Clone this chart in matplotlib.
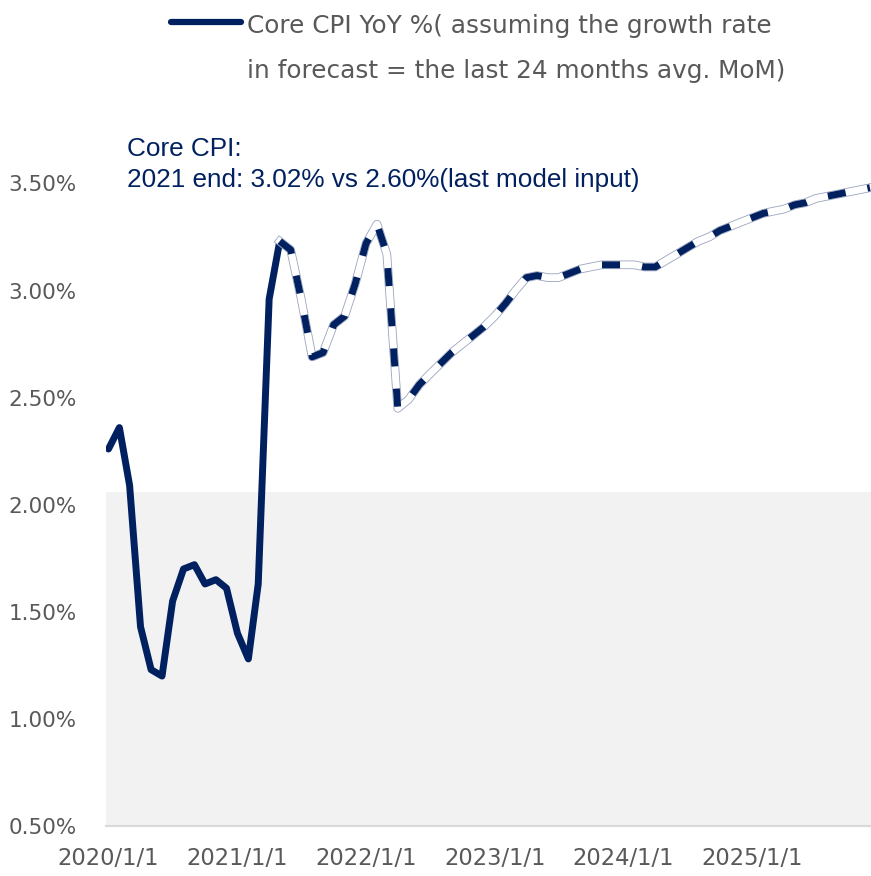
import matplotlib
matplotlib.use("Agg")
import matplotlib.pyplot as plt
import pandas as pd
from matplotlib.lines import Line2D

# monthly core CPI YoY %, 2020/1 .. 2025/12
months = pd.date_range("2020-01-01", "2025-12-01", freq="MS")
core_cpi_yoy = [
    2.26, 2.36, 2.09, 1.43, 1.23, 1.20, 1.55, 1.70, 1.72, 1.63, 1.65, 1.61,
    1.40, 1.28, 1.63, 2.96, 3.23, 3.19, 2.96, 2.69, 2.71, 2.84, 2.88, 3.03,
    3.22, 3.31, 3.17, 2.45, 2.49, 2.56, 2.61, 2.66, 2.71, 2.75, 2.79, 2.83,
    2.88, 2.94, 3.00, 3.06, 3.07, 3.06, 3.06, 3.08, 3.10, 3.11, 3.12, 3.12,
    3.12, 3.12, 3.11, 3.11, 3.14, 3.17, 3.20, 3.23, 3.25, 3.28, 3.30, 3.32,
    3.34, 3.36, 3.37, 3.38, 3.40, 3.41, 3.43, 3.44, 3.45, 3.46, 3.47, 3.48,
]
last_actual = "2021-05-01"          # forecast starts here
shade_level = 2.06                  # grey band upper edge
y_ticks = [0.5, 1.0, 1.5, 2.0, 2.5, 3.0, 3.5]
x_ticks = pd.date_range("2020-01-01", "2025-01-01", freq="YS")

legend_lines = ["Core CPI YoY %( assuming the growth rate",
                "in forecast = the last 24 months avg. MoM)"]
note_lines = ["Core CPI:", "2021 end: 3.02% vs 2.60%(last model input)"]

NAVY = "#002060"
GREY = "#595959"

s = pd.Series(core_cpi_yoy, index=months)
actual = s[:last_actual]
forecast = s[last_actual:]

W, H = 871, 876
fig = plt.figure(figsize=(W / 100, H / 100), dpi=100)
ax = fig.add_axes([106 / W, 50 / H, 765 / W, 664 / H])

ax.axhspan(0.5, shade_level, color="#f2f2f2", lw=0, zorder=0)

ax.plot(actual.index, actual.values, color=NAVY, lw=5, solid_capstyle="round",
        solid_joinstyle="round", zorder=3)
# forecast: white line with thin outline and navy dashes
ax.plot(forecast.index, forecast.values, color="#9aa4bd", lw=6.2,
        solid_joinstyle="round", zorder=3)
ax.plot(forecast.index, forecast.values, color="white", lw=5,
        solid_joinstyle="round", zorder=4)
ax.plot(forecast.index, forecast.values, color=NAVY, lw=5,
        dashes=(2.6, 3.2), dash_capstyle="butt", zorder=5)

ax.set_xlim(pd.Timestamp("2019-12-25"), pd.Timestamp("2025-12-04"))
ax.set_ylim(0.5, 3.6)

for side in ("top", "right", "left"):
    ax.spines[side].set_visible(False)
ax.spines["bottom"].set_color("#d9d9d9")
ax.spines["bottom"].set_linewidth(1.5)

ax.set_yticks(y_ticks)
ax.set_yticklabels([f"{v:.2f}%" for v in y_ticks], fontsize=15.5, color=GREY)
ax.tick_params(axis="y", length=0, pad=21)

ax.set_xticks(x_ticks)
ax.set_xticklabels([f"{d.year}/1/1" for d in x_ticks], fontsize=16.3, color=GREY)
ax.tick_params(axis="x", length=0, pad=15)

# legend drawn by hand so the handle sits on the first line
fig.add_artist(Line2D([171 / W, 241 / W], [1 - 22 / H, 1 - 22 / H],
                      color=NAVY, lw=4.5, solid_capstyle="round"))
for i, line in enumerate(legend_lines):
    fig.text(247 / W, 1 - (33 + 45 * i) / H, line, fontsize=17.8,
             color=GREY, va="baseline", ha="left")

for i, line in enumerate(note_lines):
    fig.text(127 / W, 1 - (156 + 31 * i) / H, line,
             family=["Liberation Sans", "DejaVu Sans"], fontsize=18.8,
             color=NAVY, va="baseline", ha="left")

fig.savefig("out.png", dpi=100)
